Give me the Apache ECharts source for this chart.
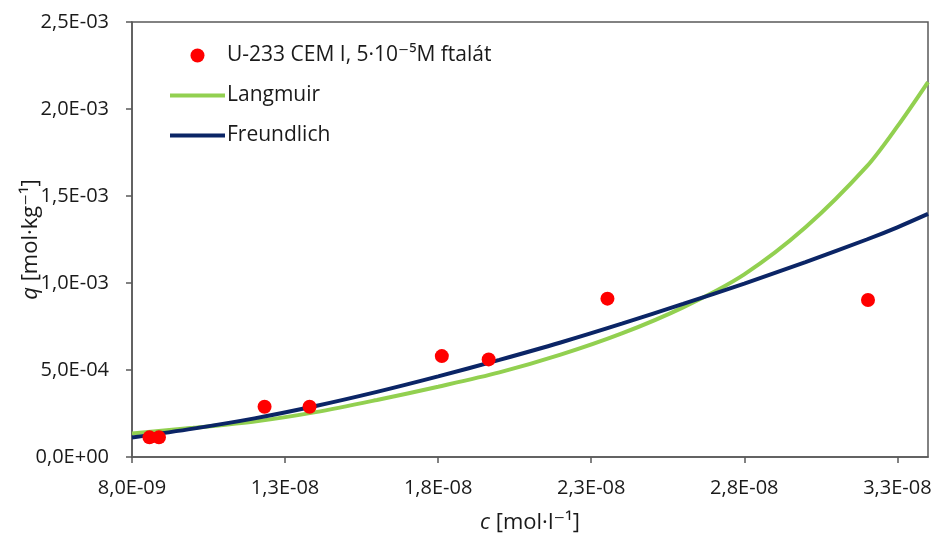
<!DOCTYPE html>
<html>
<head>
<meta charset="utf-8">
<script src="https://cdn.jsdelivr.net/npm/echarts@6/dist/echarts.min.js"></script>
<style>
  html, body { margin: 0; padding: 0; background: #fff; }
  #chart { width: 938px; height: 542px; }
</style>
</head>
<body>
<div id="chart"></div>
<script>
// Tick positions on the concentration axis
const xTicks = [8e-9, 1.3e-8, 1.8e-8, 2.3e-8, 2.8e-8, 3.3e-8];

// Measured sorption points: c [mol/l], q [mol/kg]
const measC = [8.57e-9, 8.88e-9, 1.233e-8, 1.380e-8, 1.812e-8, 1.965e-8, 2.353e-8, 3.204e-8];
const measQ = [1.13e-4, 1.13e-4, 2.89e-4, 2.89e-4, 5.80e-4, 5.61e-4, 9.10e-4, 9.02e-4];

// Concentrations at which the fitted isotherms are drawn
const fitC = [8e-9, 1.0e-8, 1.2e-8, 1.4e-8, 1.6e-8, 1.8e-8, 2.0e-8, 2.2e-8, 2.4e-8, 2.6e-8, 2.8e-8, 3.0e-8, 3.2e-8, 3.3e-8, 3.4e-8];

// Langmuir isotherm fit
const langQ = [1.35e-4, 1.68e-4, 2.04e-4, 2.58e-4, 3.28e-4, 4.04e-4, 4.86e-4, 5.88e-4, 7.10e-4, 8.60e-4, 1.050e-3, 1.320e-3, 1.670e-3, 1.900e-3, 2.155e-3];

// Freundlich isotherm fit
const freuQ = [1.12e-4, 1.63e-4, 2.22e-4, 2.93e-4, 3.74e-4, 4.63e-4, 5.58e-4, 6.58e-4, 7.66e-4, 8.80e-4, 9.97e-4, 1.120e-3, 1.250e-3, 1.320e-3, 1.397e-3];

const FONT = '"Open Sans", "DejaVu Sans", sans-serif';

function pairs(xs, ys) { return xs.map((x, i) => [x, ys[i]]); }

// Scientific label with decimal comma: 2,5E-03
function sci(v) {
  if (Math.abs(v) < 1e-15) return '0,0E+00';
  const parts = v.toExponential(1).split('e');
  const n = parseInt(parts[1], 10);
  return parts[0].replace('.', ',') + 'E' + (n < 0 ? '-' : '+') + String(Math.abs(n)).padStart(2, '0');
}

const axisCol = '#595959';
const textCol = '#1a1a1a';
const lineIcon = 'path://M0,0 L55,0 L55,4 L0,4 Z';

const chart = echarts.init(document.getElementById('chart'), null, { renderer: 'canvas' });
chart.setOption({
  backgroundColor: '#ffffff',
  animation: false,
  grid: {
    left: 132, right: 10, top: 22, bottom: 85,
    outerBoundsMode: 'none',
    containLabel: false,
    show: true, borderColor: axisCol, borderWidth: 1.5, backgroundColor: 'transparent'
  },
  legend: {
    orient: 'vertical',
    left: 165, top: 40,
    itemWidth: 55, itemHeight: 14, itemGap: 19,
    textStyle: { fontFamily: FONT, fontSize: 21, color: textCol, padding: [0, 0, 0, -3] },
    data: [
      { name: 'U-233 CEM I, 5·10⁻⁵M ftalát', icon: 'circle' },
      { name: 'Langmuir', icon: lineIcon },
      { name: 'Freundlich', icon: lineIcon }
    ]
  },
  xAxis: {
    type: 'value',
    min: 8e-9, max: 3.4e-8,
    name: '{i|c} [mol·l⁻¹]',
    nameLocation: 'middle', nameGap: 55,
    nameMoveOverlap: false,
    nameTextStyle: {
      fontFamily: FONT, fontSize: 22, color: textCol,
      rich: { i: { fontFamily: FONT, fontSize: 22, fontStyle: 'italic', color: textCol } }
    },
    axisLine: { onZero: false, lineStyle: { color: axisCol, width: 1.5 } },
    axisTick: { show: true, length: 6, inside: false, customValues: xTicks, lineStyle: { color: axisCol, width: 1.5 } },
    axisLabel: { customValues: xTicks, margin: 21, fontFamily: FONT, fontSize: 20, color: textCol, formatter: sci },
    splitLine: { show: false }
  },
  yAxis: {
    type: 'value',
    min: 0, max: 2.5e-3, interval: 5e-4,
    name: '{i|q} [mol·kg⁻¹]',
    nameLocation: 'middle', nameGap: 90, nameRotate: 90,
    nameMoveOverlap: false,
    nameTextStyle: {
      fontFamily: FONT, fontSize: 22, color: textCol,
      rich: { i: { fontFamily: FONT, fontSize: 22, fontStyle: 'italic', color: textCol } }
    },
    axisLine: { show: true, lineStyle: { color: axisCol, width: 1.5 } },
    axisTick: { show: true, length: 6, lineStyle: { color: axisCol, width: 1.5 } },
    axisLabel: { margin: 23, fontFamily: FONT, fontSize: 20, color: textCol, formatter: sci },
    splitLine: { show: false }
  },
  series: [
    {
      name: 'U-233 CEM I, 5·10⁻⁵M ftalát',
      type: 'scatter',
      symbol: 'circle', symbolSize: 14,
      itemStyle: { color: '#ff0000', opacity: 1 },
      z: 5,
      data: pairs(measC, measQ)
    },
    {
      name: 'Langmuir',
      type: 'line',
      smooth: 0.3,
      showSymbol: false, symbol: 'none',
      lineStyle: { color: '#92d050', width: 4 },
      itemStyle: { color: '#92d050' },
      z: 2,
      data: pairs(fitC, langQ)
    },
    {
      name: 'Freundlich',
      type: 'line',
      smooth: 0.3,
      showSymbol: false, symbol: 'none',
      lineStyle: { color: '#0b2566', width: 4 },
      itemStyle: { color: '#0b2566' },
      z: 3,
      data: pairs(fitC, freuQ)
    }
  ]
});
</script>
</body>
</html>
